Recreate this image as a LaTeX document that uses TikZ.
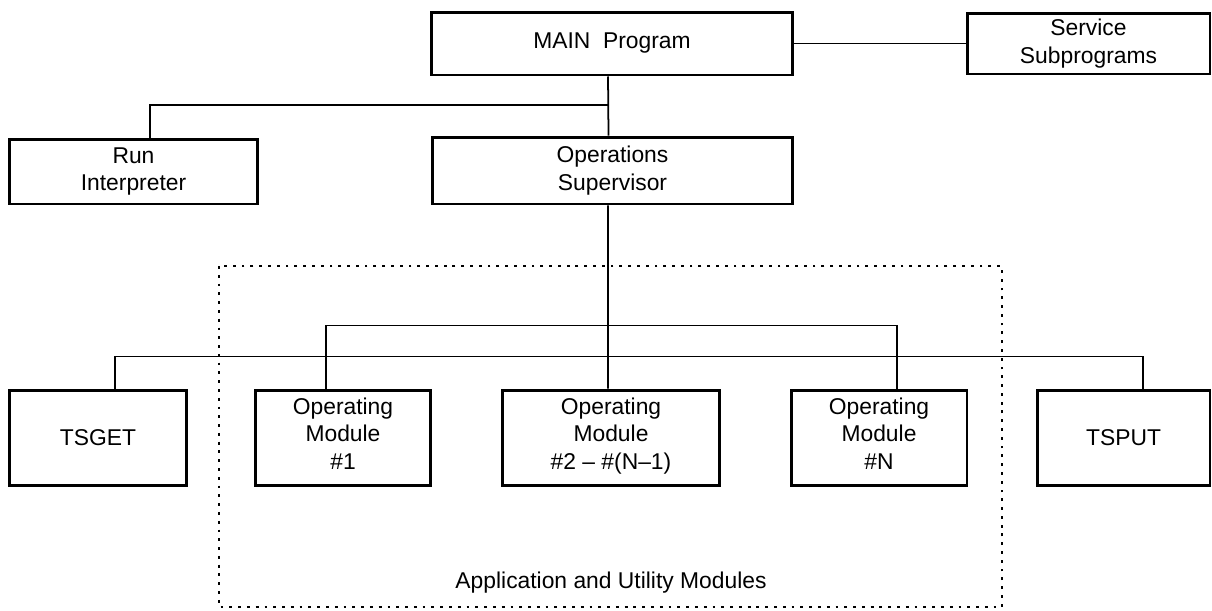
\documentclass[tikz,border=0pt]{standalone}
\usepackage{fontspec}
\setmainfont{Liberation Sans}
\begin{document}
\begin{tikzpicture}
	[x=0.02cm, y=-0.02cm,
	every node/.style={font=\fontsize{13}{15.6}\selectfont, align=center},
	kasten/.style={draw, line width=1.7pt, inner sep=0pt},
	modul/.style={kasten, minimum height=1.9cm},
	linie/.style={line width=1pt},
	rahmen/.style={line width=1.4pt, dash pattern=on 1.6pt off 3.4pt},
	]
	\useasboundingbox (0,0) rectangle (1212,610);

	% obere Ebene
	\node[kasten, minimum width=7.24cm, minimum height=1.26cm] (main) at (612,43.5) {MAIN~ Program};
	\node[kasten, minimum width=4.86cm, minimum height=1.22cm] (service) at (1088.5,43.5) {Service\\Subprograms};
	\node[kasten, minimum width=4.98cm, minimum height=1.3cm] (run) at (133.5,171.5) {Run\\Interpreter};
	\node[kasten, minimum width=7.22cm, minimum height=1.34cm] (ops) at (612.5,170.5) {Operations\\Supervisor};

	% Module
	\node[modul, minimum width=3.56cm] (tsget) at (98,437.5) {TSGET};
	\node[modul, minimum width=3.52cm] (mod1) at (343,437.5) {Operating\\Module\\\#1\strut};
	\node[modul, minimum width=4.36cm] (mod2) at (611,437.5) {Operating\\Module\\\#2 -- \#(N--1)\strut};
	\node[modul, minimum width=3.52cm] (modN) at (879,437.5) {Operating\\Module\\\#N\strut};
	\node[modul, minimum width=3.46cm] (tsput) at (1123.5,437.5) {TSPUT};

	\draw[rahmen] (219,266) rectangle (1002,607);
	\node (titel) at (611,583) {Application and Utility Modules};

	% Verbindungen
	\coordinate (abzweig) at (608,105);
	\draw[linie] (main.east) -- (service.west);
	\draw[linie] ([xshift=-0.08cm]main.south) -- ([xshift=-0.08cm]ops.north);
	\draw[linie] (abzweig) -| ([xshift=0.33cm]run.north);
	\draw[linie] ([xshift=-0.09cm]ops.south) -- ([xshift=-0.06cm]mod2.north);
	\draw[linie] ([xshift=-0.34cm]mod1.north) -- ++(0,-63) -| ([xshift=0.36cm]modN.north);
	\draw[linie] ([xshift=0.34cm]tsget.north) -- ++(0,-32) -| ([xshift=0.39cm]tsput.north);
\end{tikzpicture}
\end{document}
